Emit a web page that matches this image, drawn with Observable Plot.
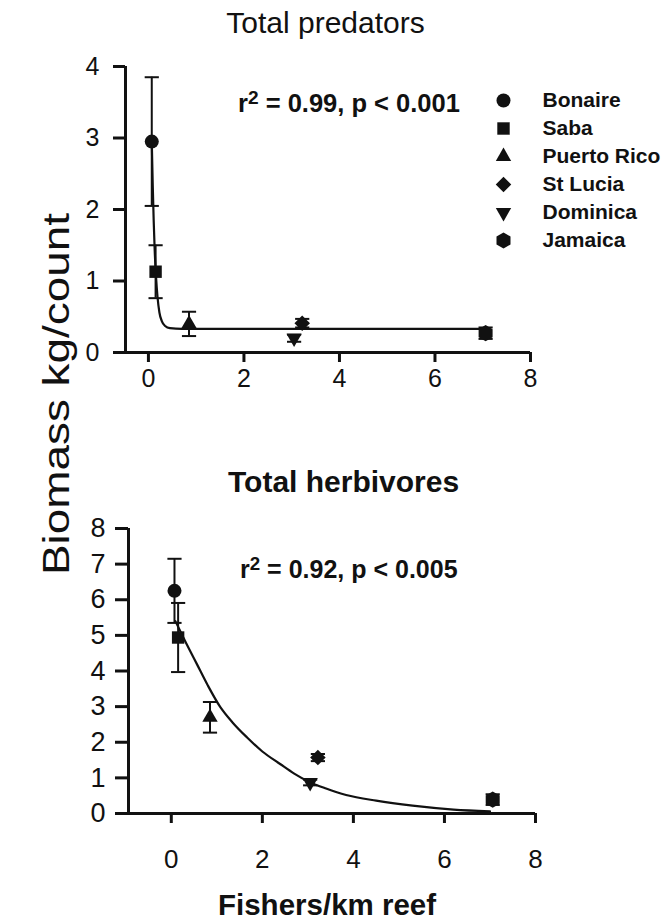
<!DOCTYPE html>
<html>
<head>
<meta charset="utf-8">
<script src="https://cdn.jsdelivr.net/npm/d3@7"></script>
<script src="https://cdn.jsdelivr.net/npm/@observablehq/plot@0.6"></script>
<style>
  body { margin: 0; background: #fff; }
  #wrap { position: relative; width: 665px; height: 920px; overflow: hidden;
          font-family: "Liberation Sans", Arial, sans-serif; color: #111; }
  .abs { position: absolute; white-space: nowrap; line-height: 1; }
  #wrap svg { position: absolute; }
  #wrap svg text { font-family: "Liberation Sans", Arial, sans-serif; }
  sup { font-size: 0.75em; line-height: 0; vertical-align: 0.42em; }
</style>
</head>
<body>
<div id="wrap"></div>
<script>
// ---------- data ----------
const islands = ["Bonaire", "Saba", "Puerto Rico", "St Lucia", "Dominica", "Jamaica"];
const fishers = [0.07, 0.15, 0.85, 3.22, 3.05, 7.06];          // Fishers/km reef
const predBiomass = [2.95, 1.13, 0.40, 0.41, 0.20, 0.27];       // Total predators
const predErr = [0.90, 0.37, 0.17, 0.06, 0.05, 0.08];
const herbBiomass = [6.25, 4.94, 2.70, 1.57, 0.87, 0.39];       // Total herbivores
const herbErr = [0.90, 0.97, 0.43, 0.10, 0.08, 0.15];

// fitted curves
const predFitX = [0.07, 0.09, 0.11, 0.13, 0.16, 0.19, 0.23, 0.28, 0.35, 0.45, 0.7, 1.5, 3, 5, 7.05];
const predFitY = [2.95, 2.35, 1.85, 1.45, 1.05, 0.78, 0.56, 0.44, 0.37, 0.34, 0.33, 0.33, 0.33, 0.33, 0.33];
const herbFitX = [0.09, 0.3, 0.56, 0.8, 1.07, 1.35, 1.66, 2.0, 2.39, 2.7, 3.04, 3.4, 3.84, 4.5, 5.3, 6.2, 7.0];
const herbFitY = [5.4, 4.85, 4.2, 3.6, 3.0, 2.55, 2.14, 1.74, 1.39, 1.12, 0.88, 0.7, 0.52, 0.36, 0.22, 0.11, 0.06];

const xTicks = [0, 2, 4, 6, 8];
const predTicks = [0, 1, 2, 3, 4];
const herbTicks = [0, 1, 2, 3, 4, 5, 6, 7, 8];

const titleTop = "Total predators";
const titleBottom = "Total herbivores";
const statTop = ["r", "2", " = 0.99, p < 0.001"];
const statBottom = ["r", "2", " = 0.92, p < 0.005"];
const xLabel = "Fishers/km reef";
const yLabel = "Biomass kg/count";

// ---------- symbols ----------
const triUp = {
  draw(ctx, size) {
    const h = Math.sqrt(size) * 0.62; // half width
    const t = h * Math.sqrt(3);       // full height
    ctx.moveTo(0, -t * 2 / 3);
    ctx.lineTo(h, t / 3);
    ctx.lineTo(-h, t / 3);
    ctx.closePath();
  }
};
const triDown = {
  draw(ctx, size) {
    const h = Math.sqrt(size) * 0.62;
    const t = h * Math.sqrt(3);
    ctx.moveTo(0, t * 2 / 3);
    ctx.lineTo(h, -t / 3);
    ctx.lineTo(-h, -t / 3);
    ctx.closePath();
  }
};
const capSymbol = {
  draw(ctx, size) {
    const w = Math.sqrt(size);
    ctx.moveTo(-w, 0);
    ctx.lineTo(w, 0);
  }
};
const symbolRange = ["circle", "square", triUp, "diamond2", triDown, "hexagon"];
const ink = "#111";
const fmt = d => String(d);

function rows(ys, errs) {
  return islands.map((name, i) => ({name, x: fishers[i], y: ys[i], lo: ys[i] - errs[i], hi: ys[i] + errs[i]}));
}
function fit(xs, ys) { return xs.map((x, i) => ({x, y: ys[i]})); }

function panel({data, fitData, xDomain, yDomain, yTicks, height, marginTop, marginBottom, marginLeft, marginRight,
                yTickSize, yTickPad, yFont, xTickPad, xFont}) {
  return Plot.plot({
    width: 665, height, marginTop, marginBottom, marginLeft, marginRight,
    style: {background: "transparent", overflow: "visible", color: ink},
    x: {domain: xDomain},
    y: {domain: yDomain},
    symbol: {domain: islands, range: symbolRange, legend: false},
    marks: [
      Plot.ruleY([yDomain[0]], {stroke: ink, strokeWidth: 3}),
      Plot.ruleX([xDomain[0]], {stroke: ink, strokeWidth: 3}),
      Plot.axisX({ticks: xTicks, tickFormat: fmt, tickSize: 10, tickPadding: xTickPad, fontSize: xFont,
        strokeWidth: 3, stroke: ink, fill: ink, label: null}),
      Plot.axisY({ticks: yTicks, tickFormat: fmt, tickSize: yTickSize, tickPadding: yTickPad, fontSize: yFont,
        strokeWidth: 3, stroke: ink, fill: ink, label: null}),
      Plot.line(fitData, {x: "x", y: "y", curve: "monotone-x", stroke: ink, strokeWidth: 2.2}),
      Plot.ruleX(data, {x: "x", y1: "lo", y2: "hi", stroke: ink, strokeWidth: 2}),
      Plot.dot(data, {x: "x", y: "hi", symbol: capSymbol, r: 4, stroke: ink, strokeWidth: 2}),
      Plot.dot(data, {x: "x", y: "lo", symbol: capSymbol, r: 4, stroke: ink, strokeWidth: 2}),
      Plot.dot(data, {x: "x", y: "y", symbol: "name", r: 7, fill: ink, stroke: "none"})
    ]
  });
}

const wrap = document.getElementById("wrap");

const topPanel = panel({
  data: rows(predBiomass, predErr), fitData: fit(predFitX, predFitY),
  xDomain: [-0.48, 8], yDomain: [0, 4], yTicks: predTicks,
  height: 400, marginTop: 66, marginBottom: 48, marginLeft: 125, marginRight: 135,
  yTickSize: 12, yTickPad: 14, yFont: 25, xTickPad: 7, xFont: 25
});
topPanel.style.left = "0px"; topPanel.style.top = "0px";
wrap.appendChild(topPanel);

const bottomPanel = panel({
  data: rows(herbBiomass, herbErr), fitData: fit(herbFitX, herbFitY),
  xDomain: [-0.94, 8], yDomain: [0, 8], yTicks: herbTicks,
  height: 400, marginTop: 58, marginBottom: 57, marginLeft: 128, marginRight: 130,
  yTickSize: 13, yTickPad: 10, yFont: 27, xTickPad: 26, xFont: 26
});
bottomPanel.style.left = "0px"; bottomPanel.style.top = "470px";
wrap.appendChild(bottomPanel);

// legend
const legendPanel = Plot.plot({
  width: 180, height: 170, margin: 0, marginTop: 14, marginBottom: 14,
  style: {background: "transparent", overflow: "visible", color: ink},
  x: {axis: null},
  y: {type: "point", domain: islands, padding: 0, axis: null},
  symbol: {domain: islands, range: symbolRange, legend: false},
  marks: [
    Plot.dot(islands, {y: d => d, symbol: d => d, frameAnchor: "left", dx: 13, r: 7, fill: ink, stroke: "none"}),
    Plot.text(islands, {y: d => d, text: d => d, frameAnchor: "left", dx: 52, textAnchor: "start",
      fontSize: 21, fontWeight: "bold", fill: ink})
  ]
});
legendPanel.style.left = "490px"; legendPanel.style.top = "85px";
wrap.appendChild(legendPanel);

// texts
function addText(html, css) {
  const d = document.createElement("div");
  d.className = "abs";
  d.innerHTML = html;
  Object.assign(d.style, css);
  wrap.appendChild(d);
  return d;
}
addText(titleTop, {left: "0px", width: "651px", textAlign: "center", top: "7.6px", fontSize: "30px"});
addText(titleBottom, {left: "228px", top: "466.6px", fontSize: "30px", fontWeight: "bold"});
addText(xLabel, {left: "218px", top: "890px", fontSize: "29.5px", fontWeight: "bold"});
addText(`${statTop[0]}<sup>${statTop[1]}</sup>${statTop[2]}`, {left: "238px", top: "91.4px", fontSize: "25.5px", fontWeight: "bold"});
addText(`${statBottom[0]}<sup>${statBottom[1]}</sup>${statBottom[2]}`, {left: "240px", top: "556.6px", fontSize: "25px", fontWeight: "bold"});
addText(yLabel, {left: "56px", top: "394px", fontSize: "37px",
  transform: "translate(-50%, -50%) rotate(-90deg) scaleX(1.24)"});
</script>
</body>
</html>
